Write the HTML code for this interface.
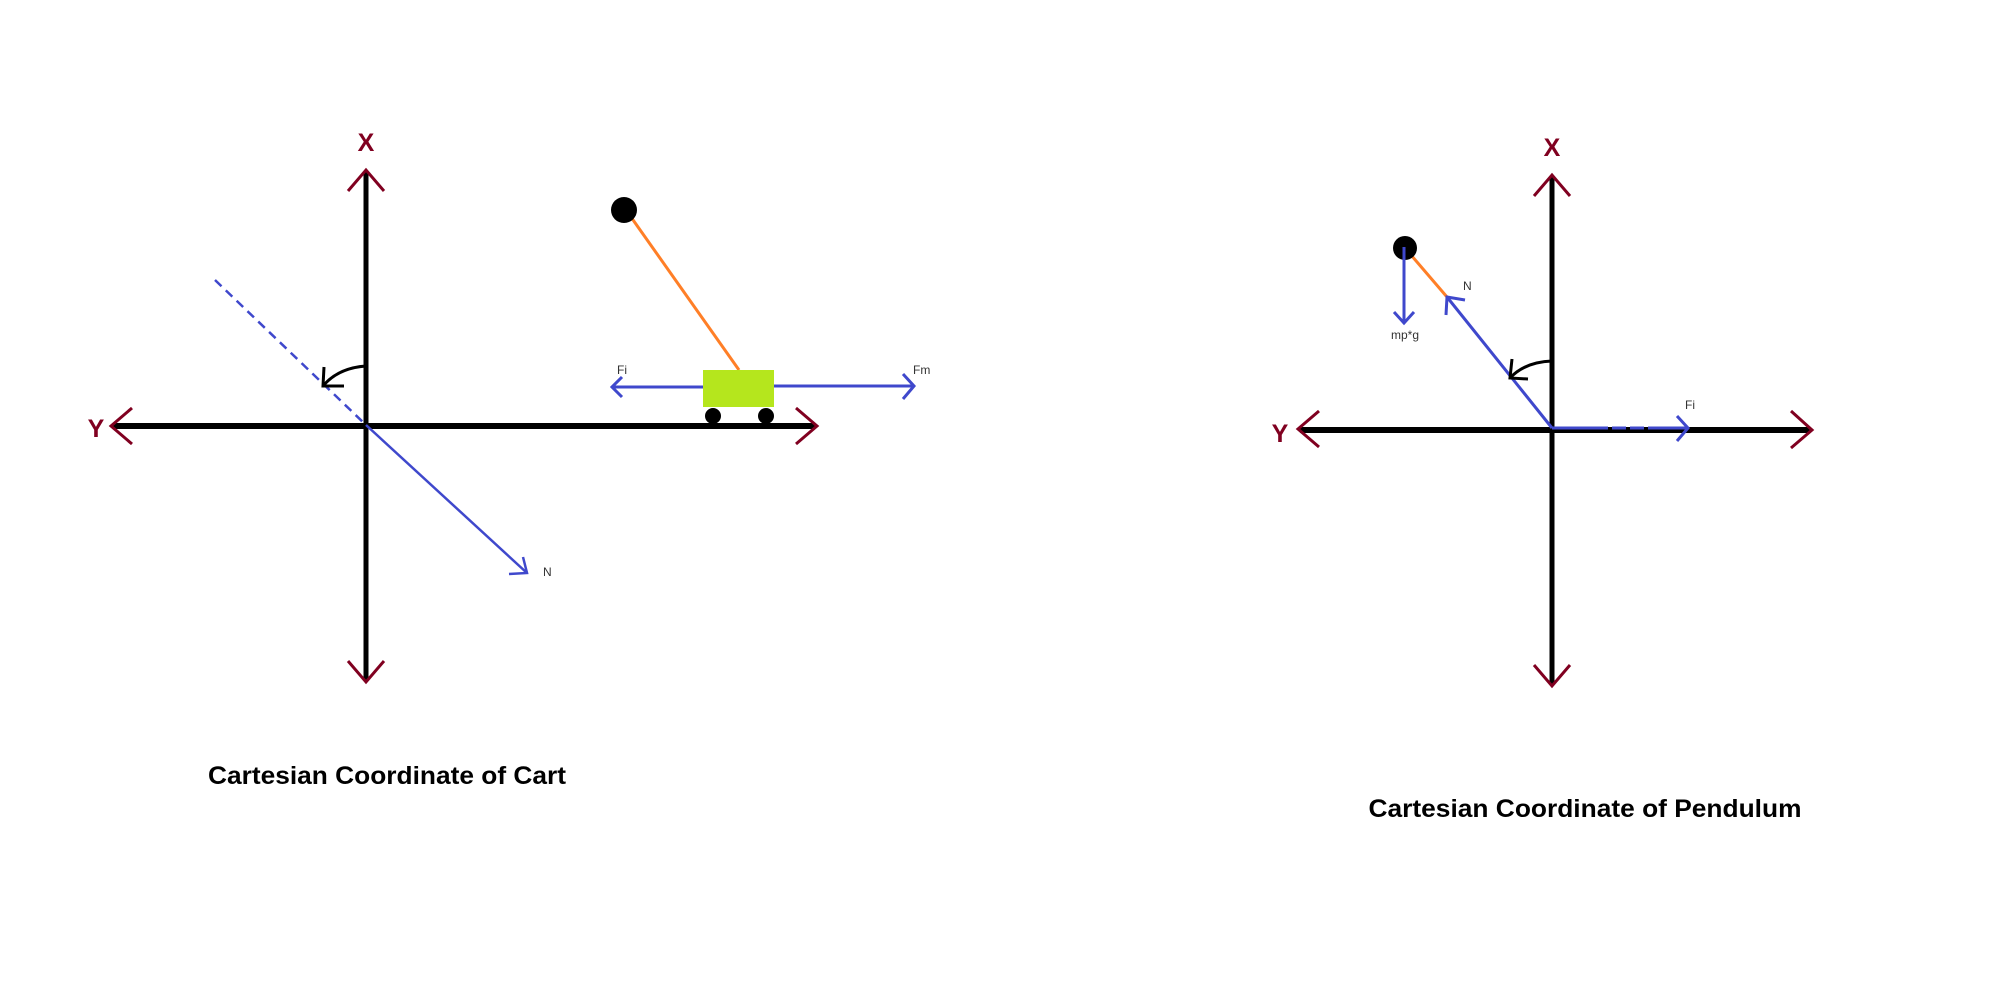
<!DOCTYPE html>
<html><head><meta charset="utf-8"><style>
html,body{margin:0;padding:0;background:#fff;}
svg{display:block;}
text{font-family:"Liberation Sans",sans-serif;}
</style></head><body>
<svg width="2000" height="1000" viewBox="0 0 2000 1000">
<g>
  <line x1="366" y1="172" x2="366" y2="680" stroke="#000" stroke-width="5"/>
  <line x1="112" y1="426" x2="815" y2="426" stroke="#000" stroke-width="6"/>
  <polyline points="348,191 366,170 384,191" fill="none" stroke="#800020" stroke-width="3"/>
  <polyline points="348,661 366,682 384,661" fill="none" stroke="#800020" stroke-width="3"/>
  <polyline points="132,408 111,426 132,444" fill="none" stroke="#800020" stroke-width="3"/>
  <polyline points="796,408 817,426 796,444" fill="none" stroke="#800020" stroke-width="3"/>
  <text x="366" y="151" font-size="25" font-weight="bold" fill="#800020" text-anchor="middle">X</text>
  <text x="96" y="437" font-size="25" font-weight="bold" fill="#800020" text-anchor="middle">Y</text>
  <line x1="215" y1="280" x2="366" y2="425" stroke="#3f48cc" stroke-width="2.5" stroke-dasharray="9,6"/>
  <line x1="366" y1="425" x2="527" y2="573" stroke="#3f48cc" stroke-width="2.5"/>
  <polyline points="523,557 527,573 509,574" fill="none" stroke="#3f48cc" stroke-width="2.5"/>
  <text x="543" y="576" font-size="12" fill="#333">N</text>
  <path d="M366,366 Q338,368 323,386" fill="none" stroke="#000" stroke-width="3"/>
  <polyline points="324,367 323,386 344,386" fill="none" stroke="#000" stroke-width="3"/>
  <line x1="626" y1="210" x2="739" y2="370" stroke="#ff7f27" stroke-width="3"/>
  <circle cx="624" cy="210" r="13" fill="#000"/>
  <rect x="703" y="370" width="71" height="37" fill="#b5e61d"/>
  <circle cx="713" cy="416" r="8" fill="#000"/>
  <circle cx="766" cy="416" r="8" fill="#000"/>
  <line x1="703" y1="387" x2="612" y2="387" stroke="#3f48cc" stroke-width="3"/>
  <polyline points="622,377 612,387 622,397" fill="none" stroke="#3f48cc" stroke-width="3"/>
  <text x="617" y="374" font-size="12" fill="#333">Fi</text>
  <line x1="774" y1="386" x2="914" y2="386" stroke="#3f48cc" stroke-width="3"/>
  <polyline points="903,374 914,386 903,399" fill="none" stroke="#3f48cc" stroke-width="3"/>
  <text x="913" y="374" font-size="12" fill="#333">Fm</text>
  <text x="387" y="784" font-size="25" font-weight="bold" fill="#000" text-anchor="middle" textLength="358" lengthAdjust="spacingAndGlyphs">Cartesian Coordinate of Cart</text>
</g>
<g>
  <line x1="1552" y1="177" x2="1552" y2="684" stroke="#000" stroke-width="5"/>
  <line x1="1300" y1="430" x2="1810" y2="430" stroke="#000" stroke-width="6"/>
  <polyline points="1534,196 1552,175 1570,196" fill="none" stroke="#800020" stroke-width="3"/>
  <polyline points="1534,665 1552,686 1570,665" fill="none" stroke="#800020" stroke-width="3"/>
  <polyline points="1319,411 1298,429 1319,447" fill="none" stroke="#800020" stroke-width="3"/>
  <polyline points="1791,411 1812,430 1791,448" fill="none" stroke="#800020" stroke-width="3"/>
  <text x="1552" y="156" font-size="25" font-weight="bold" fill="#800020" text-anchor="middle">X</text>
  <text x="1280" y="442" font-size="25" font-weight="bold" fill="#800020" text-anchor="middle">Y</text>
  <line x1="1405" y1="248" x2="1447" y2="297" stroke="#ff7f27" stroke-width="3"/>
  <circle cx="1405" cy="248" r="12" fill="#000"/>
  <line x1="1404" y1="247" x2="1404" y2="323" stroke="#3f48cc" stroke-width="3"/>
  <polyline points="1394,312 1404,323 1414,312" fill="none" stroke="#3f48cc" stroke-width="3"/>
  <text x="1405" y="339" font-size="12" fill="#333" text-anchor="middle">mp*g</text>
  <line x1="1552" y1="428" x2="1447" y2="297" stroke="#3f48cc" stroke-width="3"/>
  <polyline points="1446,315 1447,297 1465,300" fill="none" stroke="#3f48cc" stroke-width="3"/>
  <text x="1463" y="290" font-size="12" fill="#333">N</text>
  <path d="M1552,361 Q1525,362 1510,378" fill="none" stroke="#000" stroke-width="3"/>
  <polyline points="1512,359 1510,378 1528,379" fill="none" stroke="#000" stroke-width="3"/>
  <line x1="1552" y1="428" x2="1688" y2="428" stroke="#3f48cc" stroke-width="3" stroke-dasharray="56,4,14,4,14,4,50"/>
  <polyline points="1677,416 1688,428 1677,441" fill="none" stroke="#3f48cc" stroke-width="3"/>
  <text x="1685" y="409" font-size="12" fill="#333">Fi</text>
  <text x="1585" y="817" font-size="25" font-weight="bold" fill="#000" text-anchor="middle" textLength="433" lengthAdjust="spacingAndGlyphs">Cartesian Coordinate of Pendulum</text>
</g>
</svg>
</body></html>
